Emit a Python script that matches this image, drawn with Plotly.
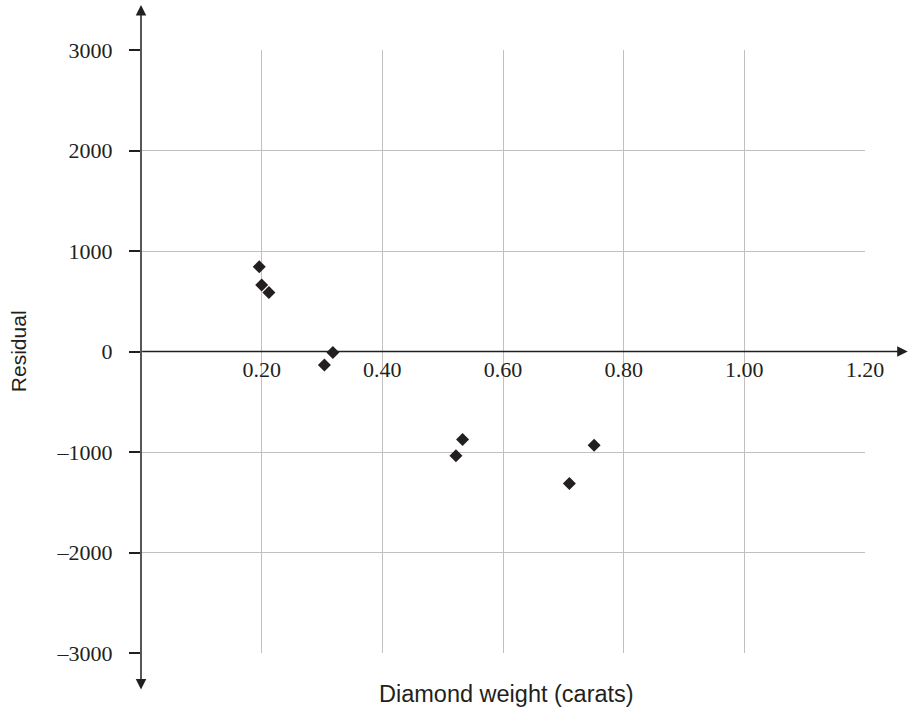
import plotly.graph_objects as go

# Data
weight = [0.196, 0.200, 0.212, 0.304, 0.318, 0.522, 0.533, 0.710, 0.751]
residual = [843, 661, 588, -135, -10, -1038, -875, -1313, -932]

x_ticks = [0.2, 0.4, 0.6, 0.8, 1.0, 1.2]
x_ticktext = ["0.20", "0.40", "0.60", "0.80", "1.00", "1.20"]
y_ticks = [-3000, -2000, -1000, 0, 1000, 2000, 3000]
y_ticktext = ["–3000", "–2000", "–1000", "0", "1000", "2000", "3000"]

INK = "#231f20"
GRID = "#c0c0c0"

fig = go.Figure()
fig.add_trace(go.Scatter(
    x=weight, y=residual, mode="markers",
    marker=dict(symbol="diamond", size=10, color=INK, line=dict(width=0)),
    hoverinfo="x+y", showlegend=False,
))

fig.update_layout(
    width=909, height=713,
    margin=dict(l=141, r=44, t=50, b=60),
    paper_bgcolor="white", plot_bgcolor="white",
    font=dict(family="Liberation Serif, Times New Roman, serif", size=22, color=INK),
    xaxis=dict(
        range=[0, 1.2], tickvals=x_ticks, ticktext=x_ticktext,
        showgrid=True, gridcolor=GRID, gridwidth=1.3,
        zeroline=False, showline=False, ticks="",
        anchor="free", position=0.5, ticklabelstandoff=2,
        fixedrange=True,
    ),
    yaxis=dict(
        range=[-3000, 3000], tickvals=y_ticks, ticktext=y_ticktext,
        showgrid=True, gridcolor=GRID, gridwidth=1.3,
        zeroline=False, showline=False,
        ticks="outside", ticklen=11, tickwidth=1.5, tickcolor=INK,
        ticklabelstandoff=12,
        fixedrange=True,
    ),
    annotations=[
        # vertical axis with arrows at both ends
        dict(x=0, y=1.0746, ax=0, ay=686, xref="paper", yref="paper",
             axref="pixel", ayref="pixel",
             text="", showarrow=True, arrowhead=2, startarrowhead=2, arrowside="end+start",
             arrowwidth=1.5, arrowsize=1.4, startarrowsize=1.4, arrowcolor=INK,
             standoff=0, startstandoff=0),
        # horizontal axis with arrow at the right
        dict(x=1.059, y=0.5, ax=-767, ay=0, xref="paper", yref="paper",
             axref="pixel", ayref="pixel",
             text="", showarrow=True, arrowhead=2, arrowside="end",
             arrowwidth=1.5, arrowsize=1.4, arrowcolor=INK, standoff=0),
        dict(text="Diamond weight (carats)", x=0.505, y=-0.068, xref="paper", yref="paper",
             showarrow=False, xanchor="center", yanchor="middle",
             font=dict(family="Liberation Sans, Arial, sans-serif", size=23.5, color=INK)),
        dict(text="Residual", x=-0.169, y=0.5, xref="paper", yref="paper", textangle=-90,
             showarrow=False, xanchor="center", yanchor="middle",
             font=dict(family="Liberation Sans, Arial, sans-serif", size=21, color=INK)),
    ],
)

# remove the default page margin so the 909x713 figure fills the window exactly
fig.write_html(
    "out.html",
    config={"displayModeBar": False},
    post_script="document.body.style.margin='0';document.body.style.overflow='hidden';",
)
